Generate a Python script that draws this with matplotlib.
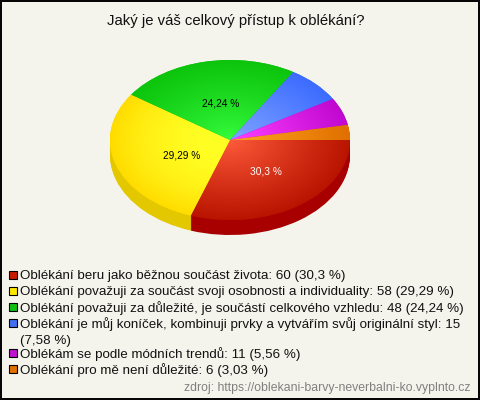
import numpy as np
import matplotlib
matplotlib.use("Agg")
import matplotlib.pyplot as plt
from matplotlib.patches import Rectangle

plt.rcParams['font.family'] = ['Liberation Sans', 'DejaVu Sans']

title = "Jaký je váš celkový přístup k oblékání?"
values = [60, 58, 48, 15, 11, 6]
pct_labels = ["30,3 %", "29,29 %", "24,24 %", "", "", ""]
legend_labels = [
    "Oblékání beru jako běžnou součást života: 60 (30,3 %)",
    "Oblékání považuji za součást svoji osobnosti a individuality: 58 (29,29 %)",
    "Oblékání považuji za důležité, je součástí celkového vzhledu: 48 (24,24 %)",
    "Oblékání je můj koníček, kombinuji prvky a vytvářím svůj originální styl: 15\n(7,58 %)",
    "Oblékám se podle módních trendů: 11 (5,56 %)",
    "Oblékání pro mě není důležité: 6 (3,03 %)",
]
source = "zdroj: https://oblekani-barvy-neverbalni-ko.vyplnto.cz"

W, H = 480, 400
BG = "#f5f4ec"
inner = ["#ff5c3c", "#ffff24", "#38ff40", "#80a4ff", "#ff40ff", "#ffa420"]
outer = ["#b81400", "#ffdc00", "#0cc40c", "#3c6cff", "#c008d0", "#e07000"]
side = ["#a80000", "#e3c800", "#0a9a0a", "#3058c8", "#9a08a8", "#b85a00"]
swatch = ["#c81a00", "#ffe800", "#10c010", "#4070f0", "#c010d0", "#e07000"]
gamma = [0.9, 2.2, 0.8, 1.0, 1.0, 1.0]
CX, CY, RX, RY, DEPTH = 230, 140, 120, 80, 15

fig = plt.figure(figsize=(W / 100, H / 100), dpi=100, facecolor=BG)

# pie axes: one data unit is RX px across and RY px down
left, right, top, bottom = CX - 130, CX + 130, CY - 90, CY + 110
pie_ax = fig.add_axes([left / W, 1 - bottom / H, (right - left) / W, (bottom - top) / H])
pie_ax.patch.set_alpha(0)
xlim = ((left - CX) / RX, (right - CX) / RX)
ylim = ((CY - bottom) / RY, (CY - top) / RY)

d = DEPTH / RY
for off in np.linspace(d, 0, DEPTH + 1)[:-1]:
    pie_ax.pie(values, colors=side, startangle=0, counterclock=False, radius=1,
               center=(0, -off), wedgeprops=dict(linewidth=0.6, edgecolor='none'))
wedges, _ = pie_ax.pie(values, colors=outer, startangle=0, counterclock=False, radius=1,
                       center=(0, 0), wedgeprops=dict(linewidth=0))

yy, xx = np.mgrid[1:-1:300j, -1:1:300j]
rr = np.clip(np.hypot(xx, yy), 0, 1)
for w, c0, c1, g in zip(wedges, inner, outer, gamma):
    a = np.array(matplotlib.colors.to_rgb(c0))
    b = np.array(matplotlib.colors.to_rgb(c1))
    img = a[None, None, :] + (b - a)[None, None, :] * (rr[..., None] ** g)
    im = pie_ax.imshow(img, extent=(-1, 1, -1, 1), interpolation='bilinear', zorder=3)
    im.set_clip_path(w)
pie_ax.set_aspect('auto')
pie_ax.set_xlim(*xlim)
pie_ax.set_ylim(*ylim)
pie_ax.axis('off')

# overlay in pixel coordinates
ax = fig.add_axes([0, 0, 1, 1])
ax.set_xlim(0, W)
ax.set_ylim(H, 0)
ax.axis('off')
ax.patch.set_alpha(0)
ax.add_patch(Rectangle((0.5, 0.5), W - 1.5, H - 1.5, fill=False, ec='black', lw=1.4))

ax.text(236, 21, title, ha='center', va='center', fontsize=10.7, color='#111111')

pct_pos = [(266, 171), (182, 155), (221, 103)]
pct_col = ['white', 'black', 'black']
for lab, (x, y), c in zip(pct_labels, pct_pos, pct_col):
    ax.text(x, y, lab, ha='center', va='center', fontsize=7.3, color=c)

row_y = [274, 290, 306, 322, 352, 368]
for lab, y, c in zip(legend_labels, row_y, swatch):
    ax.add_patch(Rectangle((9, y - 3.5), 8, 8, fc=c, ec='black', lw=0.8))
    ax.text(20.5, y - 4.5, lab, ha='left', va='top', fontsize=9.68, color='#111111', linespacing=1.36)

ax.text(470.5, 388, source, ha='right', va='center', fontsize=8.85, color='#808080')

fig.savefig("out.png", dpi=100, facecolor=BG)
